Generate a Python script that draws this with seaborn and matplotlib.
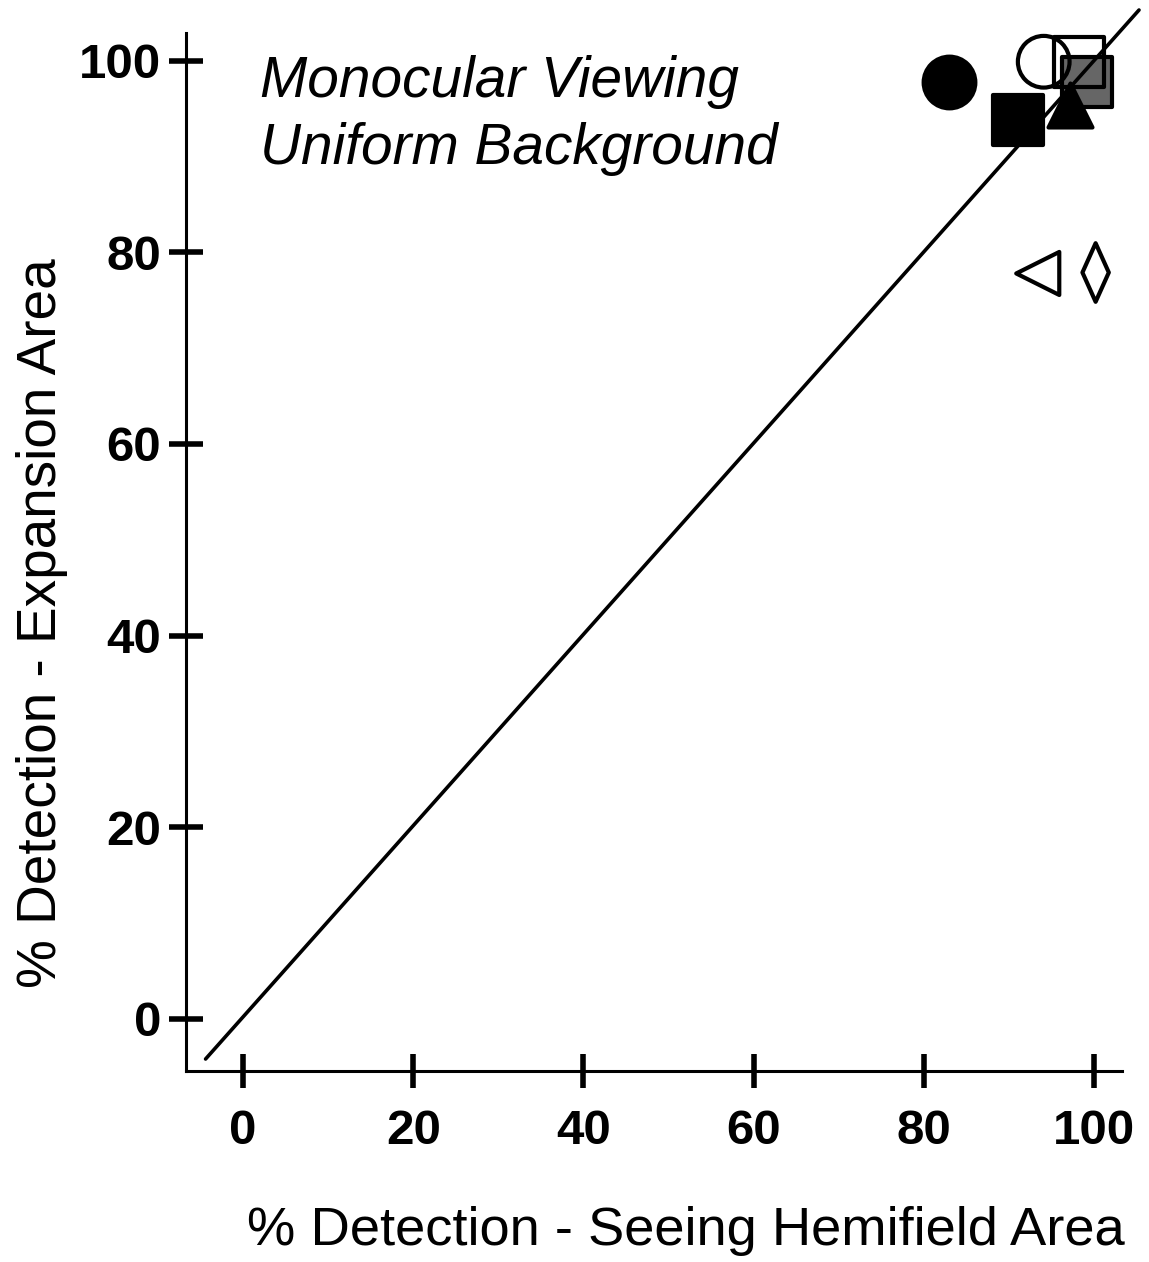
import numpy as np
import matplotlib
matplotlib.use("Agg")
import matplotlib.pyplot as plt
from matplotlib.path import Path
import seaborn as sns

# ---- data ----
seeing_pct = [83.0, 94.1, 99.2, 98.2, 91.1, 97.2, 93.4, 100.2]
expansion_pct = [97.8, 99.9, 97.8, 99.9, 93.8, 95.4, 77.8, 77.9]
marker_kind = ["circle", "circle", "square", "square", "square", "tri_up", "tri_left", "diamond"]
fill_kind = ["black", "none", "gray", "none", "black", "black", "none", "none"]
identity_x = [-4.4, 105.3]
identity_y = [-4.2, 105.3]
x_ticks = [0, 20, 40, 60, 80, 100]
y_ticks = [0, 20, 40, 60, 80, 100]
annotation_lines = ["Monocular Viewing", "Uniform Background"]
x_label = "% Detection - Seeing Hemifield Area"
y_label = "% Detection - Expansion Area"

sns.set_theme(style="white")
plt.rcParams["font.family"] = ["Liberation Sans", "DejaVu Sans"]

W, H = 1149, 1262
fig = plt.figure(figsize=(W / 100, H / 100), dpi=100)
ax = fig.add_axes([186 / W, 1 - 1071 / H, (1122 - 186) / W, (1071 - 33) / H])

diamond_path = Path([(0, 1), (0.45, 0), (0, -1), (-0.45, 0), (0, 1)],
                    [Path.MOVETO, Path.LINETO, Path.LINETO, Path.LINETO, Path.CLOSEPOLY])
marker_map = {"circle": "o", "square": "s", "tri_up": "^", "tri_left": "<", "diamond": diamond_path}
size_map = {"circle": 1385, "square": 1290, "tri_up": 1000, "tri_left": 960, "diamond": 1780}
color_map = {"black": "black", "none": "none", "gray": "#666666"}
z_map = {"black": 3, "gray": 2, "none": 3.5}

for xv, yv, mk, fk in zip(seeing_pct, expansion_pct, marker_kind, fill_kind):
    sns.scatterplot(x=[xv], y=[yv], marker=marker_map[mk], s=size_map[mk],
                    facecolor=color_map[fk], edgecolor="black", linewidth=3.0,
                    zorder=z_map[fk], ax=ax, legend=False, clip_on=False)

sns.lineplot(x=identity_x, y=identity_y, color="black", linewidth=2.6,
             ax=ax, zorder=5, clip_on=False, legend=False)

ax.set_xlim(-6.7, 103.3)
ax.set_ylim(-5.45, 102.9)
ax.set_xticks(x_ticks)
ax.set_yticks(y_ticks)
ax.set_xticklabels([str(t) for t in x_ticks], fontsize=35.5, fontweight="bold")
ax.set_yticklabels([str(t) for t in y_ticks], fontsize=35.5, fontweight="bold")
ax.tick_params(axis="both", which="major", bottom=True, left=True, top=False, right=False,
               direction="inout", length=24, width=4.0, color="black", labelcolor="black")
ax.tick_params(axis="x", pad=15)
ax.tick_params(axis="y", pad=6)

for side in ["top", "right"]:
    ax.spines[side].set_visible(False)
for side in ["left", "bottom"]:
    ax.spines[side].set_color("black")
    ax.spines[side].set_linewidth(2.2)

ax.set_xlabel(x_label, fontsize=39.2, color="black")
ax.xaxis.label.set_ha("right")
ax.xaxis.label.set_va("baseline")
ax.xaxis.set_label_coords((1125 - 186) / (1122 - 186), (1071 - 1245) / (1071 - 33))

ax.set_ylabel(y_label, fontsize=39.5, color="black")
ax.yaxis.label.set_ha("center")
ax.yaxis.label.set_va("bottom")
ax.yaxis.label.set_rotation_mode("anchor")
ax.yaxis.set_label_coords((68 - 186) / (1122 - 186), (1071 - 623) / (1071 - 33))

baselines_px = [97, 164]
for line, by in zip(annotation_lines, baselines_px):
    ax.text((260 - 186) / (1122 - 186), (1071 - by) / (1071 - 33), line,
            transform=ax.transAxes, fontsize=40.9, fontstyle="italic", color="black",
            ha="left", va="baseline")

ax.grid(False)
fig.savefig("out.png", dpi=100, facecolor="white")
